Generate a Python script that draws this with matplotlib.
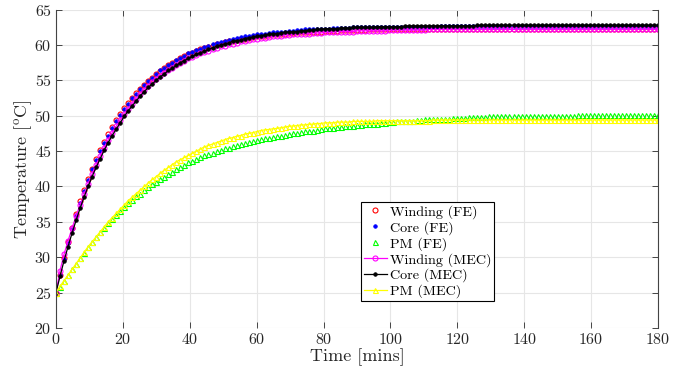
import numpy as np
import matplotlib.pyplot as plt

plt.rcParams['font.family'] = 'serif'
plt.rcParams['font.serif'] = ['cmr10']
plt.rcParams['mathtext.fontset'] = 'cm'
plt.rcParams['axes.formatter.use_mathtext'] = True


# time samples (minutes), one marker every 1.2 min
time = np.linspace(0, 180, 151)

winding_fe = [
    25.0, 27.5, 29.9, 32.1, 34.2, 36.1, 37.9, 39.5, 41.1, 42.5,
    43.9, 45.1, 46.3, 47.4, 48.4, 49.4, 50.2, 51.1, 51.8, 52.5,
    53.2, 53.8, 54.4, 54.9, 55.4, 55.9, 56.3, 56.8, 57.1, 57.5,
    57.8, 58.1, 58.4, 58.7, 58.9, 59.1, 59.4, 59.6, 59.7, 59.9,
    60.1, 60.2, 60.4, 60.5, 60.6, 60.7, 60.8, 60.9, 61.0, 61.1,
    61.2, 61.3, 61.3, 61.4, 61.5, 61.5, 61.6, 61.6, 61.7, 61.7,
    61.8, 61.8, 61.8, 61.9, 61.9, 61.9, 61.9, 62.0, 62.0, 62.0,
    62.0, 62.1, 62.1, 62.1, 62.1, 62.1, 62.1, 62.1, 62.2, 62.2,
    62.2, 62.2, 62.2, 62.2, 62.2, 62.2, 62.2, 62.2, 62.2, 62.2,
    62.2, 62.2, 62.2, 62.2, 62.3, 62.3, 62.3, 62.3, 62.3, 62.3,
    62.3, 62.3, 62.3, 62.3, 62.3, 62.3, 62.3, 62.3, 62.3, 62.3,
    62.3, 62.3, 62.3, 62.3, 62.3, 62.3, 62.3, 62.3, 62.3, 62.3,
    62.3, 62.3, 62.3, 62.3, 62.3, 62.3, 62.3, 62.3, 62.3, 62.3,
    62.3, 62.3, 62.3, 62.3, 62.3, 62.3, 62.3, 62.3, 62.3, 62.3,
    62.3, 62.3, 62.3, 62.3, 62.3, 62.3, 62.3, 62.3, 62.3, 62.3,
    62.3,
]

core_fe = [
    25.0, 27.5, 29.8, 32.0, 34.0, 35.9, 37.7, 39.4, 40.9, 42.4,
    43.7, 45.0, 46.1, 47.2, 48.3, 49.2, 50.1, 50.9, 51.7, 52.5,
    53.1, 53.8, 54.4, 54.9, 55.4, 55.9, 56.4, 56.8, 57.2, 57.5,
    57.9, 58.2, 58.5, 58.8, 59.0, 59.3, 59.5, 59.7, 59.9, 60.1,
    60.3, 60.4, 60.6, 60.7, 60.9, 61.0, 61.1, 61.2, 61.3, 61.4,
    61.5, 61.6, 61.6, 61.7, 61.8, 61.8, 61.9, 61.9, 62.0, 62.0,
    62.1, 62.1, 62.2, 62.2, 62.2, 62.3, 62.3, 62.3, 62.3, 62.4,
    62.4, 62.4, 62.4, 62.4, 62.5, 62.5, 62.5, 62.5, 62.5, 62.5,
    62.5, 62.6, 62.6, 62.6, 62.6, 62.6, 62.6, 62.6, 62.6, 62.6,
    62.6, 62.6, 62.6, 62.6, 62.6, 62.6, 62.7, 62.7, 62.7, 62.7,
    62.7, 62.7, 62.7, 62.7, 62.7, 62.7, 62.7, 62.7, 62.7, 62.7,
    62.7, 62.7, 62.7, 62.7, 62.7, 62.7, 62.7, 62.7, 62.7, 62.7,
    62.7, 62.7, 62.7, 62.7, 62.7, 62.7, 62.7, 62.7, 62.7, 62.7,
    62.7, 62.7, 62.7, 62.7, 62.7, 62.7, 62.7, 62.7, 62.7, 62.7,
    62.7, 62.7, 62.7, 62.7, 62.7, 62.7, 62.7, 62.7, 62.7, 62.7,
    62.7,
]

pm_fe = [
    25.0, 25.8, 26.7, 27.5, 28.3, 29.1, 29.9, 30.6, 31.4, 32.1,
    32.8, 33.5, 34.1, 34.8, 35.4, 36.0, 36.5, 37.1, 37.6, 38.1,
    38.6, 39.0, 39.5, 39.9, 40.3, 40.7, 41.1, 41.4, 41.8, 42.1,
    42.5, 42.8, 43.1, 43.4, 43.6, 43.9, 44.1, 44.4, 44.6, 44.8,
    45.0, 45.2, 45.4, 45.5, 45.7, 45.9, 46.0, 46.15, 46.3, 46.4,
    46.55, 46.7, 46.8, 46.9, 47.0, 47.1, 47.2, 47.3, 47.4, 47.5,
    47.6, 47.7, 47.8, 47.9, 47.9, 48.0, 48.1, 48.2, 48.2, 48.3,
    48.4, 48.4, 48.5, 48.6, 48.6, 48.7, 48.7, 48.8, 48.8, 48.9,
    48.9, 49.0, 49.0, 49.1, 49.1, 49.2, 49.2, 49.3, 49.3, 49.3,
    49.4, 49.4, 49.5, 49.5, 49.5, 49.6, 49.6, 49.6, 49.6, 49.7,
    49.7, 49.7, 49.7, 49.8, 49.8, 49.8, 49.8, 49.8, 49.9, 49.9,
    49.9, 49.9, 49.9, 49.9, 49.9, 49.9, 49.9, 50.0, 50.0, 50.0,
    50.0, 50.0, 50.0, 50.0, 50.0, 50.0, 50.0, 50.0, 50.0, 50.0,
    50.1, 50.1, 50.1, 50.1, 50.1, 50.1, 50.1, 50.1, 50.1, 50.1,
    50.1, 50.1, 50.1, 50.1, 50.1, 50.1, 50.1, 50.1, 50.1, 50.1,
    50.1,
]

winding_mec = [
    25.0, 28.1, 30.4, 32.3, 34.1, 35.8, 37.4, 38.9, 40.4, 41.8,
    43.1, 44.3, 45.5, 46.6, 47.6, 48.5, 49.4, 50.2, 51.0, 51.7,
    52.4, 53.0, 53.6, 54.2, 54.7, 55.2, 55.6, 56.1, 56.4, 56.8,
    57.2, 57.5, 57.8, 58.1, 58.3, 58.6, 58.8, 59.0, 59.2, 59.4,
    59.6, 59.8, 59.9, 60.1, 60.2, 60.3, 60.5, 60.6, 60.7, 60.8,
    60.9, 61.0, 61.0, 61.1, 61.2, 61.2, 61.3, 61.4, 61.4, 61.5,
    61.5, 61.6, 61.6, 61.6, 61.7, 61.7, 61.7, 61.8, 61.8, 61.8,
    61.9, 61.9, 61.9, 61.9, 61.9, 62.0, 62.0, 62.0, 62.0, 62.0,
    62.0, 62.0, 62.0, 62.1, 62.1, 62.1, 62.1, 62.1, 62.1, 62.1,
    62.1, 62.1, 62.1, 62.2, 62.2, 62.2, 62.2, 62.2, 62.2, 62.2,
    62.2, 62.2, 62.2, 62.2, 62.2, 62.2, 62.2, 62.2, 62.2, 62.2,
    62.2, 62.2, 62.2, 62.2, 62.2, 62.2, 62.2, 62.2, 62.2, 62.2,
    62.2, 62.2, 62.2, 62.2, 62.2, 62.2, 62.2, 62.2, 62.2, 62.2,
    62.2, 62.2, 62.2, 62.2, 62.2, 62.2, 62.2, 62.2, 62.2, 62.2,
    62.2, 62.2, 62.2, 62.2, 62.2, 62.2, 62.2, 62.2, 62.2, 62.2,
    62.2,
]

core_mec = [
    25.0, 27.3, 29.5, 31.5, 33.4, 35.2, 36.9, 38.5, 40.0, 41.4,
    42.7, 43.9, 45.1, 46.2, 47.2, 48.1, 49.0, 49.9, 50.7, 51.4,
    52.1, 52.8, 53.4, 54.0, 54.5, 55.0, 55.5, 55.9, 56.4, 56.7,
    57.1, 57.5, 57.8, 58.1, 58.4, 58.7, 58.9, 59.1, 59.4, 59.6,
    59.8, 60.0, 60.1, 60.3, 60.5, 60.6, 60.7, 60.9, 61.0, 61.1,
    61.2, 61.3, 61.4, 61.5, 61.6, 61.6, 61.7, 61.8, 61.8, 61.9,
    61.9, 62.0, 62.0, 62.1, 62.1, 62.2, 62.2, 62.3, 62.3, 62.3,
    62.3, 62.4, 62.4, 62.4, 62.5, 62.5, 62.5, 62.5, 62.5, 62.5,
    62.6, 62.6, 62.6, 62.6, 62.6, 62.6, 62.6, 62.7, 62.7, 62.7,
    62.7, 62.7, 62.7, 62.7, 62.7, 62.7, 62.7, 62.7, 62.7, 62.7,
    62.7, 62.7, 62.7, 62.7, 62.7, 62.8, 62.8, 62.8, 62.8, 62.8,
    62.8, 62.8, 62.8, 62.8, 62.8, 62.8, 62.8, 62.8, 62.8, 62.8,
    62.8, 62.8, 62.8, 62.8, 62.8, 62.8, 62.8, 62.8, 62.8, 62.8,
    62.8, 62.8, 62.8, 62.8, 62.8, 62.8, 62.8, 62.8, 62.8, 62.8,
    62.8, 62.8, 62.8, 62.8, 62.8, 62.8, 62.8, 62.8, 62.8, 62.8,
    62.8,
]

pm_mec = [
    25.0, 25.9, 26.7, 27.5, 28.3, 29.1, 29.9, 30.7, 31.5, 32.2,
    32.9, 33.6, 34.3, 35.0, 35.6, 36.2, 36.8, 37.4, 38.0, 38.5,
    39.0, 39.5, 40.0, 40.5, 41.0, 41.4, 41.9, 42.3, 42.7, 43.1,
    43.5, 43.8, 44.1, 44.4, 44.7, 45.0, 45.3, 45.6, 45.8, 46.0,
    46.2, 46.4, 46.6, 46.8, 46.9, 47.1, 47.2, 47.4, 47.5, 47.6,
    47.75, 47.9, 48.0, 48.05, 48.15, 48.2, 48.3, 48.4, 48.5, 48.55,
    48.6, 48.7, 48.7, 48.8, 48.8, 48.9, 48.9, 49.0, 49.0, 49.0,
    49.1, 49.1, 49.1, 49.1, 49.2, 49.2, 49.2, 49.2, 49.2, 49.2,
    49.3, 49.3, 49.3, 49.3, 49.3, 49.3, 49.3, 49.3, 49.3, 49.3,
    49.3, 49.3, 49.3, 49.3, 49.4, 49.4, 49.4, 49.4, 49.4, 49.4,
    49.4, 49.4, 49.4, 49.4, 49.4, 49.4, 49.4, 49.4, 49.4, 49.4,
    49.4, 49.4, 49.4, 49.4, 49.4, 49.4, 49.4, 49.4, 49.4, 49.4,
    49.4, 49.4, 49.4, 49.4, 49.4, 49.4, 49.4, 49.4, 49.4, 49.4,
    49.4, 49.4, 49.4, 49.4, 49.4, 49.4, 49.4, 49.4, 49.4, 49.4,
    49.4, 49.4, 49.4, 49.4, 49.4, 49.4, 49.4, 49.4, 49.4, 49.4,
    49.4,
]

x_ticks = [0, 20, 40, 60, 80, 100, 120, 140, 160, 180]
y_ticks = [20, 25, 30, 35, 40, 45, 50, 55, 60, 65]


fig = plt.figure(figsize=(6.82, 3.79), dpi=100)
ax = fig.add_axes([0.0821, 0.1346, 0.8827, 0.8401])

ax.plot(time, winding_fe, 'o', color='red', mfc='none', ms=3.6, mew=0.8, label='Winding (FE)')
ax.plot(time, core_fe, 'o', color='blue', ms=2.6, mew=0.5, label='Core (FE)')
ax.plot(time, pm_fe, '^', color='#00ff00', mfc='none', ms=3.6, mew=0.8, label='PM (FE)')
ax.plot(time, winding_mec, '-o', color='magenta', mfc='none', ms=3.6, mew=0.8, lw=0.9, label='Winding (MEC)')
ax.plot(time, core_mec, '-o', color='black', ms=2.6, mew=0.5, lw=0.9, label='Core (MEC)')
ax.plot(time, pm_mec, '-^', color='yellow', mfc='none', ms=3.6, mew=0.8, lw=0.9, label='PM (MEC)')

ax.set_xlim(0, 180)
ax.set_ylim(20, 65)
ax.set_xticks(x_ticks)
ax.set_yticks(y_ticks)
ax.grid(True, color='#e6e6e6', lw=0.8)
ax.set_axisbelow(True)

ax.spines['top'].set_visible(False)
ax.spines['bottom'].set_visible(False)
ax.spines['left'].set_color('#444444')
ax.spines['right'].set_color('#444444')
ax.tick_params(direction='in', top=True, right=True, length=4, width=0.7,
               color='#444444', labelsize=11.5, labelcolor='#262626', pad=3)

ax.set_xlabel('Time [mins]', fontsize=13, color='#262626', labelpad=1)
ax.set_ylabel(r'Temperature [$^{\rm o}$C]', fontsize=13, color='#262626', labelpad=0)

leg = ax.legend(loc='upper left', bbox_to_anchor=(0.507, 0.395), fontsize=10.2,
                frameon=True, fancybox=False, edgecolor='black', framealpha=1,
                borderpad=0.2, labelspacing=0.15, handlelength=1.6,
                handletextpad=0.2, borderaxespad=0)
leg.get_frame().set_linewidth(0.8)

plt.savefig('out.png', dpi=100)
